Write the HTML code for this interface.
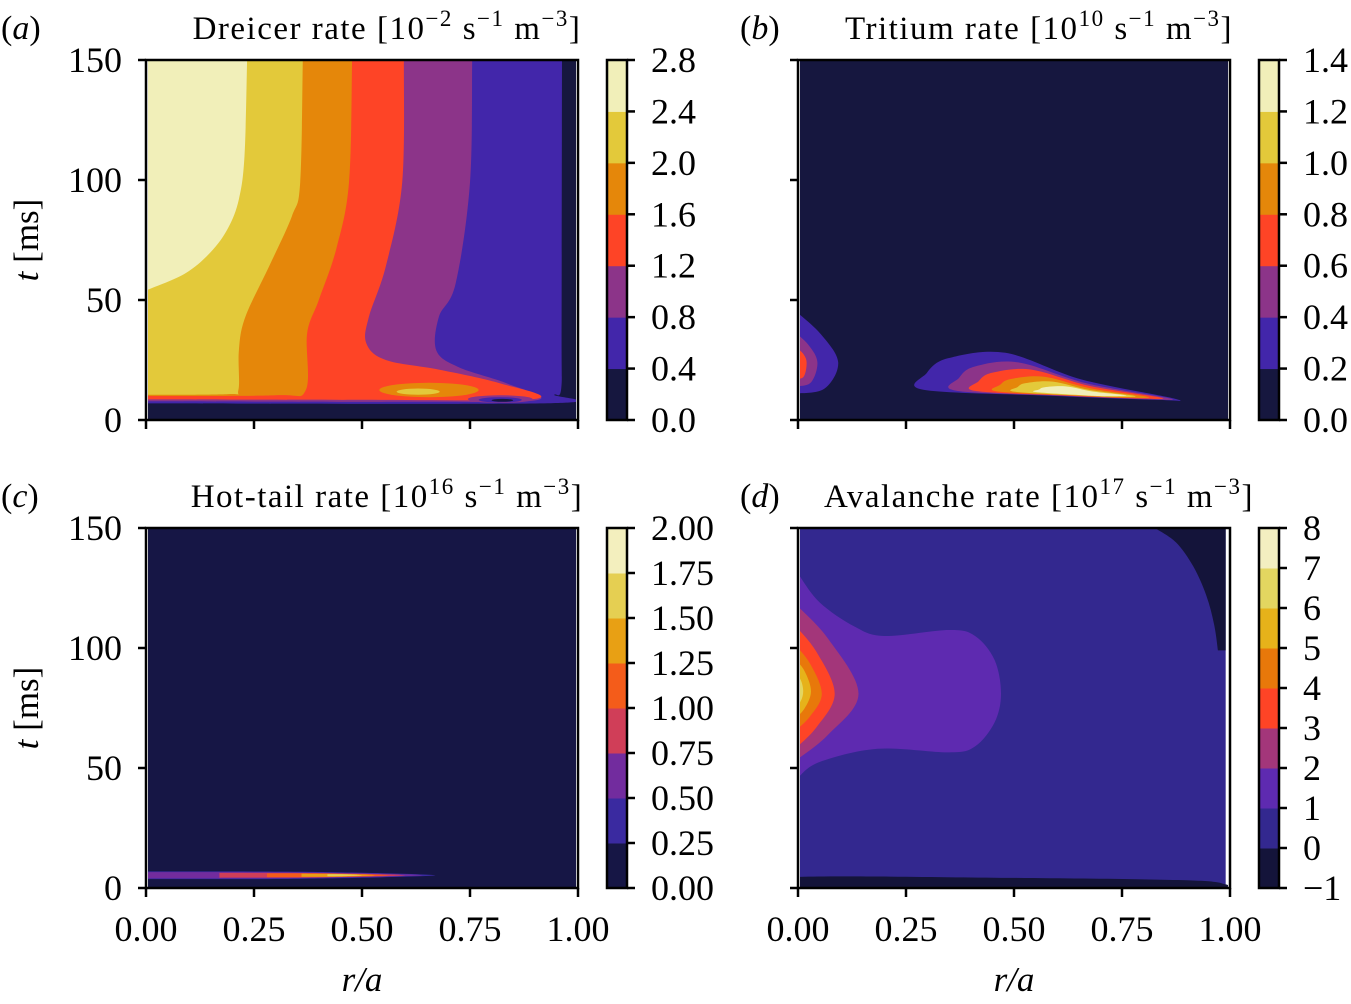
<!DOCTYPE html>
<html><head><meta charset="utf-8"><style>
body{margin:0;background:#fff}
svg text{font-family:"Liberation Serif",serif;fill:#000}
</style></head><body>
<svg id="fig" width="1351" height="999" viewBox="0 0 1351 999" xmlns="http://www.w3.org/2000/svg">
</svg>
<script>
// ---------- data ----------
const xTicks=[0,0.25,0.5,0.75,1];
const xTickLabels=["0.00","0.25","0.50","0.75","1.00"];
const yTicks=[0,50,100,150];
const cbA=["0.0","0.4","0.8","1.2","1.6","2.0","2.4","2.8"];
const cbB=["0.0","0.2","0.4","0.6","0.8","1.0","1.2","1.4"];
const cbC=["0.00","0.25","0.50","0.75","1.00","1.25","1.50","1.75","2.00"];
const cbD=["\u22121","0","1","2","3","4","5","6","7","8"];
const colA=["#16173f","#4226aa","#8c3489","#fe4426","#e5870a","#e3c93a","#f1efb9"];
const colC=["#161645","#3a2aa0","#722c9e","#d03e58","#f45c1a","#e8a014","#e5cf52","#f3efbe"];
const colD=["#14143a","#33288f","#5e2ab0","#a3367a","#fe4426","#e8780a","#e6b21a","#e3d660","#f3efc0"];
// panel a: contour boundaries (r,t) from high to low level
const aL6=[[0.234,150],[0.228,110],[0.215,92],[0.19,80],[0.15,70],[0.09,61],[0,54]];
const aL5=[[0.363,150],[0.357,99],[0.338,85],[0.285,64],[0.23,43],[0.215,29],[0.214,12.5],[0.19,10.8],[0,10.5]];
const aL4=[[0.477,150],[0.47,99],[0.44,71],[0.40,50],[0.373,36],[0.37,12.5],[0.3,10.3],[0,10]];
const aL3=[[0.597,150],[0.593,99],[0.555,64],[0.516,43],[0.51,32],[0.555,25],[0.678,21],[0.817,15.4],[0.90,8.8],[0.5,8.4],[0,8.6]];
const aL2=[[0.755,150],[0.75,99],[0.717,57],[0.678,43],[0.672,29],[0.724,22],[0.833,15.4],[0.905,8.3],[0.6,7.6],[0,7.8]];
const aL1=[[0.963,150],[0.962,40],[0.961,13],[0.945,10.5],[0.93,7],[0,6.9]];
// islands: r, t, half-width r, half-height t, level
const aIsR=[0.655,0.63,0.82,0.82,0.825];
const aIsT=[12.5,11.8,8.7,8.4,8.2];
const aIsW=[0.115,0.05,0.075,0.05,0.025];
const aIsH=[3,1.3,1.6,1.1,0.6];
const aIsL=[4,5,2,1,0];
// panel b right blob levels 1..6
const bLeft=[0.29,0.365,0.41,0.46,0.50,0.55];
const bPeakR=[0.48,0.51,0.54,0.57,0.59,0.62];
const bPeakT=[28,24,21,18,16,14];
const bRight=[0.875,0.86,0.84,0.81,0.78,0.76];
// panel b left blob levels 1..3
const lbR=[0.093,0.045,0.02];
const lbTop=[46,37,31];
const lbBot=[11,14,17];
const lbPeak=[24,24,24];
// panel c streak levels 1..6
const cStart=[0,0,0.17,0.28,0.36,0.42];
const cEnd=[0.67,0.64,0.6,0.56,0.53,0.5];
const cHalf=[1.6,1.3,1.0,0.8,0.6,0.4];
const cCenter=5.3;
// panel d
const dPurple=[[0,131],[0.05,119],[0.13,109],[0.2,105],[0.35,107.5],[0.41,105],[0.455,95],[0.47,81],[0.455,69],[0.41,59],[0.35,56.5],[0.185,58],[0.05,52.5],[0,46]];
const dR=[0.14,0.085,0.055,0.03,0.012];
const dTop=[119,110,102,96,90];
const dBot=[52.5,57.5,65,70,75];
const dPeak=[81,81,81,82,82];
const dDarkTR=[[0.826,150],[0.875,144],[0.915,134],[0.945,122],[0.963,110],[0.972,99]];
const dDarkBot=[[0,0],[0,4.6],[0.5,4.2],[0.9,3.2],[0.99,1.5],[0.99,0]];

// ---------- drawing ----------
const NS="http://www.w3.org/2000/svg";
const svg=document.getElementById('fig');
function el(tag,attrs,parent){const e=document.createElementNS(NS,tag);for(const k in attrs)e.setAttribute(k,attrs[k]);(parent||svg).appendChild(e);return e;}
const panels={a:{x0:146,y0:60},b:{x0:798,y0:60},c:{x0:146,y0:528},d:{x0:798,y0:528}};
const W=432,H=360;
function sx(p,r){return panels[p].x0+r*W;}
function sy(p,t){return panels[p].y0+H-(t/150)*H;}
function crPath(pts,closed){
  const n=pts.length;let d="M"+pts[0][0].toFixed(1)+","+pts[0][1].toFixed(1);
  const get=i=>closed?pts[(i+n)%n]:pts[Math.max(0,Math.min(n-1,i))];
  const segs=closed?n:n-1;
  for(let i=0;i<segs;i++){const p0=get(i-1),p1=get(i),p2=get(i+1),p3=get(i+2);
    const c1=[p1[0]+(p2[0]-p0[0])/6,p1[1]+(p2[1]-p0[1])/6];
    const c2=[p2[0]-(p3[0]-p1[0])/6,p2[1]-(p3[1]-p1[1])/6];
    d+="C"+c1[0].toFixed(1)+","+c1[1].toFixed(1)+" "+c2[0].toFixed(1)+","+c2[1].toFixed(1)+" "+p2[0].toFixed(1)+","+p2[1].toFixed(1);}
  return d+(closed?"Z":"");
}
function toS(p,arr){return arr.map(q=>[sx(p,q[0]),sy(p,q[1])]);}

function clipFor(p){const c=el('clipPath',{id:'clip'+p});el('rect',{x:sx(p,0)+2,y:sy(p,150),width:W-4,height:H},c);return 'url(#clip'+p+')';}

// panel a
(function(){
  const g=el('g',{'clip-path':clipFor('a')});
  
  const bg=el('rect',{x:sx('a',0),y:sy('a',150),width:W,height:H,fill:colA[0]},g);
  
  const levels=[aL1,aL2,aL3,aL4,aL5,aL6];
  levels.forEach((b,i)=>{
    const s=toS('a',b);
    const d="M"+sx('a',0)+","+sy('a',150)+" L"+crPath(s,false).slice(1)+" Z";
    const e=el('path',{d:d,fill:colA[i+1]},g);
    
  });
  aIsR.forEach((r,i)=>{
    const e=el('ellipse',{cx:sx('a',r),cy:sy('a',aIsT[i]),rx:aIsW[i]*W,ry:aIsH[i]*H/150,fill:colA[aIsL[i]]},g);
    
  });
})();

// panel b
(function(){
  const g=el('g',{'clip-path':clipFor('b')});
  
  const bg=el('rect',{x:sx('b',0),y:sy('b',150),width:W,height:H,fill:colA[0]},g);
  
  bLeft.forEach((rL,i)=>{
    const rP=bPeakR[i],tp=bPeakT[i],rR=bRight[i];
    const tb=r=>12.6-(r-0.29)/0.58*3.8+i*0.15;
    const t0=tb(rL);
    const pts=[[rL,t0],[rL+0.008,t0+(tp-t0)*0.45],[rL+(rP-rL)*0.3,t0+(tp-t0)*0.85],[rP,tp],[rP+(rR-rP)*0.45,tb(rR)+(tp-tb(rR))*0.42],[rR,tb(rR)],[rR-0.05,tb(rR)-0.35],[(rL+rR)/2,tb((rL+rR)/2)-0.6]];
    const e=el('path',{d:crPath(toS('b',pts),true),fill:colA[i+1]},g);
    
  });
  lbR.forEach((rr,i)=>{
    const top=lbTop[i],bot=lbBot[i],pk=lbPeak[i];
    const pts=[[-0.01,top],[rr*0.55,top-(top-pk)*0.45],[rr,pk],[rr*0.65,bot+(pk-bot)*0.15],[-0.01,bot]];
    const e=el('path',{d:crPath(toS('b',pts),false)+"Z",fill:colA[i+1]},g);
    
  });
})();

// panel c
(function(){
  const g=el('g',{'clip-path':clipFor('c')});
  
  const bg=el('rect',{x:sx('c',0),y:sy('c',150),width:W,height:H,fill:colC[0]},g);
  
  cStart.forEach((rS,i)=>{
    const rE=cEnd[i],h=cHalf[i],tc=cCenter;
    const m=rS+(rE-rS)*0.55;
    const pts=[[rS,tc+h],[m,tc+h*0.9],[rE,tc],[m,tc-h*0.9],[rS,tc-h]];
    const e=el('path',{d:crPath(toS('c',pts),false)+"Z",fill:colC[Math.min(i+1,7)]},g);
    
  });
})();

// panel d
(function(){
  const g=el('g',{'clip-path':clipFor('d')});
  
  const bg=el('rect',{x:sx('d',0),y:sy('d',150),width:W*0.99,height:H,fill:colD[1]},g);
  
  const trPts=toS('d',dDarkTR);
  const trD=crPath(trPts,false)+" L"+sx('d',0.99)+","+sy('d',99)+" L"+sx('d',0.99)+","+sy('d',150)+"Z";
  const tr=el('path',{d:trD,fill:colD[0]},g);
  
  const bt=el('path',{d:crPath(toS('d',dDarkBot),false)+"Z",fill:colD[0]},g);
  
  const pp=el('path',{d:crPath(toS('d',dPurple),false)+"Z",fill:colD[2]},g);
  
  dR.forEach((rr,i)=>{
    const top=dTop[i],bot=dBot[i],pk=dPeak[i];
    const pts=[[-0.01,top],[rr*0.5,top-(top-pk)*0.4],[rr,pk],[rr*0.5,bot+(pk-bot)*0.4],[-0.01,bot]];
    const e=el('path',{d:crPath(toS('d',pts),false)+"Z",fill:colD[i+3]},g);
    
  });
})();

// axes, ticks
function axes(p,showY,showX,title){
  const x0=sx(p,0),y0=sy(p,150);
  const fr=el('rect',{x:x0,y:y0,width:W,height:H,fill:'none',stroke:'#000','stroke-width':2.5});
  
  yTicks.forEach(t=>{
    const l=el('line',{x1:x0-8,x2:x0,y1:sy(p,t),y2:sy(p,t),stroke:'#000','stroke-width':2.5});
    
    if(showY){const tx=el('text',{x:x0-24,y:sy(p,t)+12,'text-anchor':'end','font-size':36});tx.textContent=t;
      }
  });
  xTicks.forEach((r,i)=>{
    const l=el('line',{x1:sx(p,r),x2:sx(p,r),y1:y0+H,y2:y0+H+9,stroke:'#000','stroke-width':2.5});
    
    if(showX){const tx=el('text',{x:sx(p,r),y:y0+H+53,'text-anchor':'middle','font-size':36});tx.textContent=xTickLabels[i];
      }
  });
  if(showY){const tx=el('text',{transform:'translate(38,'+(y0+H/2)+') rotate(-90)','text-anchor':'middle','font-size':35});
    tx.innerHTML='<tspan font-style="italic">t</tspan> [ms]';
    }
  if(showX){const tx=el('text',{x:x0+W/2,y:y0+H+103,'text-anchor':'middle','font-size':35,'font-style':'italic'});
    tx.textContent='r/a';}
  const lb=el('text',{x:p==='a'||p==='c'?1:740,y:y0-21,'font-size':34});
  lb.innerHTML='(<tspan font-style="italic">'+p+'</tspan>)';
  
  const tt=el('text',{x:x0+W/2+25,y:y0-21,'text-anchor':'middle','font-size':33,'letter-spacing':'1.5'});
  tt.innerHTML=title;
}
function sup(s,after){return '<tspan dy="-13" font-size="23">'+s+'</tspan><tspan dy="13">'+after+'</tspan>';}
axes('a',true,false,'Dreicer rate [10'+sup('\u22122',' s')+sup('\u22121',' m')+sup('\u22123',']'));
axes('b',false,false,'Tritium rate [10'+sup('10',' s')+sup('\u22121',' m')+sup('\u22123',']'));
axes('c',true,true,'Hot-tail rate [10'+sup('16',' s')+sup('\u22121',' m')+sup('\u22123',']'));
axes('d',false,true,'Avalanche rate [10'+sup('17',' s')+sup('\u22121',' m')+sup('\u22123',']'));

// colorbars
function colorbar(p,cols,labels){
  const x=sx(p,1)+29,y0=sy(p,150),n=cols.length,h=H/n;
  cols.forEach((c,i)=>{const r=el('rect',{x:x,y:y0+H-(i+1)*h,width:20,height:h+0.5,fill:c});
    });
  const f=el('rect',{x:x,y:y0,width:20,height:H,fill:'none',stroke:'#000','stroke-width':2.5});
  
  labels.forEach((s,i)=>{const yy=y0+H-i*(H/(labels.length-1));
    const l=el('line',{x1:x+20,x2:x+28,y1:yy,y2:yy,stroke:'#000','stroke-width':2.5});
    
    const t=el('text',{x:x+44,y:yy+12,'font-size':36});t.textContent=s;
    });
}
colorbar('a',colA,cbA);colorbar('b',colA,cbB);colorbar('c',colC,cbC);colorbar('d',colD,cbD);
</script>
</body></html>
